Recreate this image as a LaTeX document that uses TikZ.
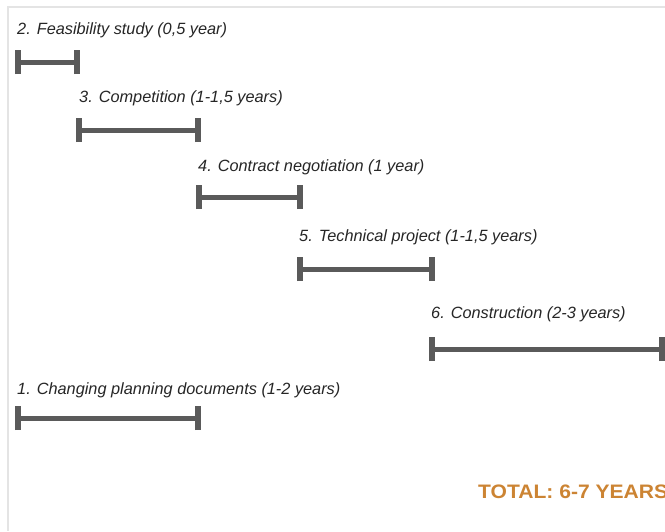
\documentclass[tikz,border=0pt]{standalone}
\usepackage{fontspec}
\setmainfont{Liberation Sans}
\definecolor{bargray}{HTML}{5A5A5A}
\definecolor{totalc}{HTML}{CC8433}
\definecolor{edgec}{HTML}{E4E4E4}
\tikzset{
  bar/.style={draw=bargray, line width=5pt},
  capline/.style={draw=bargray, line width=6pt},
  lbl/.style={anchor=base west, inner sep=0pt, font=\fontsize{16.3}{18}\selectfont\itshape, text=black!85},
  total/.style={anchor=base west, inner sep=0pt, font=\fontsize{19.5}{21}\selectfont\bfseries, text=totalc}
}
\begin{document}
\begin{tikzpicture}[x=1pt,y=-1pt]
\useasboundingbox (0,0) rectangle (665,531);
\clip (0,0) rectangle (665,531);
\fill[white] (0,0) rectangle (665,531);
\draw[edgec, line width=1.5pt] (8,531) -- (8,7) -- (665,7);
% labels
\node[lbl] (l2) at (17,34) {2. Feasibility study (0,5 year)};
\node[lbl] (l3) at (79,102) {3. Competition (1-1,5 years)};
\node[lbl] (l4) at (198,171) {4. Contract negotiation (1 year)};
\node[lbl] (l5) at (299,241) {5. Technical project (1-1,5 years)};
\node[lbl] (l6) at (431,318) {6. Construction (2-3 years)};
\node[lbl] (l1) at (17,394) {1. Changing planning documents (1-2 years)};
\node[total] (tot) at (478,498) {\scalebox{1.08}[1]{TOTAL: 6-7 YEARS}};
% bar end points
\coordinate (a2) at (18,62);  \coordinate (b2) at (77,62);
\coordinate (a3) at (79,130); \coordinate (b3) at (198,130);
\coordinate (a4) at (199,197); \coordinate (b4) at (300,197);
\coordinate (a5) at (300,269); \coordinate (b5) at (432,269);
\coordinate (a6) at (432,349); \coordinate (b6) at (662,349);
\coordinate (a1) at (18,418); \coordinate (b1) at (198,418);
\foreach \i in {1,...,6}{
  \draw[bar] (a\i) -- (b\i);
  \draw[capline] ([yshift=-12pt]a\i) -- ([yshift=12pt]a\i);
  \draw[capline] ([yshift=-12pt]b\i) -- ([yshift=12pt]b\i);
}
\end{tikzpicture}
\end{document}
